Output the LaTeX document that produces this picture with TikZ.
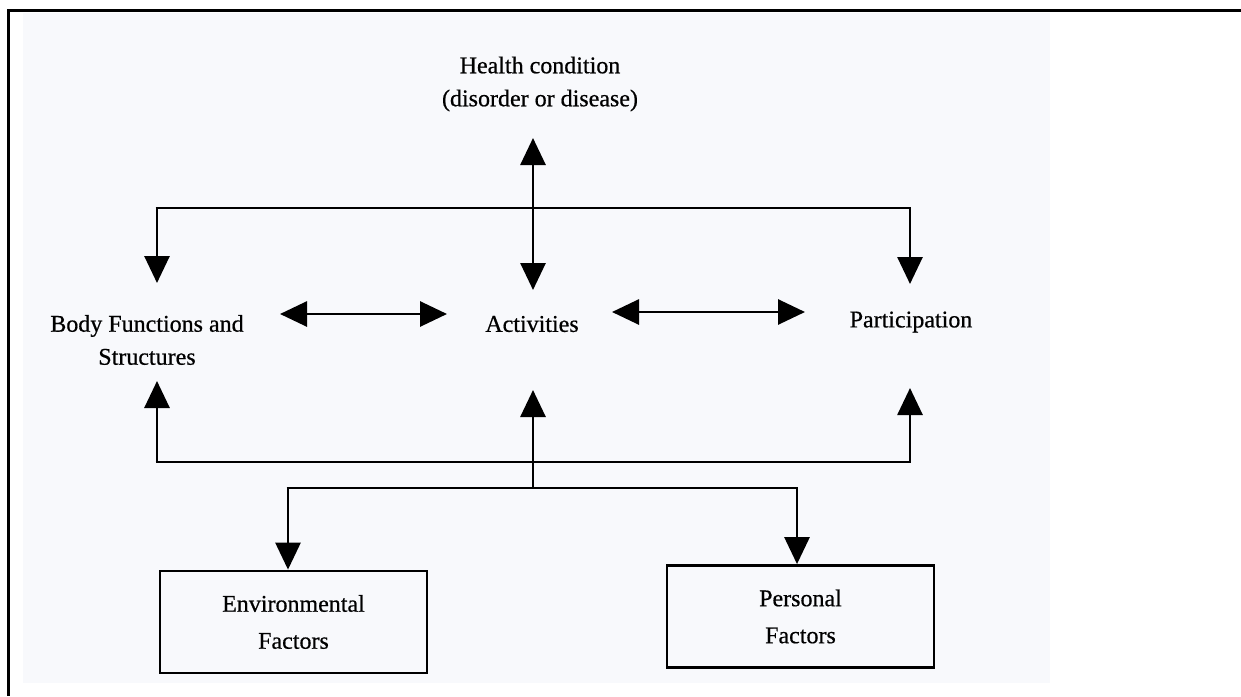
\documentclass[tikz,border=0pt]{standalone}
\usepackage{fontspec}
\setmainfont{Liberation Serif}[FakeBold=0.6]
\usetikzlibrary{arrows.meta}
\definecolor{paper}{RGB}{248,249,252}
\tikzset{
  lbl/.style={align=center, font=\fontsize{24}{33}\selectfont, inner sep=0pt},
  fbox/.style={draw, line width=2.8pt, minimum width=267pt, minimum height=102pt, align=center, font=\fontsize{24}{37}\selectfont, inner sep=0pt},
  conn/.style={line width=2.8pt},
  tip/.style={-{Triangle[width=25pt,length=27pt]}, line width=2.8pt},
  dtip/.style={{Triangle[width=25pt,length=27pt]}-{Triangle[width=25pt,length=27pt]}, line width=2.8pt}
}
\begin{document}
\begin{tikzpicture}[x=1pt,y=-1pt]
\useasboundingbox (0,0) rectangle (1241,696);
\fill[white] (0,0) rectangle (1241,696);
\fill[paper] (23,13) rectangle (1050,683);
% outer frame (top and left)
\draw[line width=3pt] (1241,10) -- (8,10) -- (8,696);

% nodes
\node[lbl] (hc) at (540,84) {Health condition\\(disorder or disease)};
\node[lbl] (bfs) at (147,340) {Body Functions and\\Structures};
\node[lbl] (act) at (532,324) {Activities};
\node[lbl] (par) at (911,322) {Participation};
\node[fbox] (env) at (293.5,622) {Environmental\\Factors};
\node[fbox] (pers) at (800.5,616.5) {Personal\\Factors};

% named points
\coordinate (hcT) at (533,138);
\coordinate (actT) at (533,290);
\coordinate (topL) at (157,208);
\coordinate (topR) at (910,208);
\coordinate (bfsT) at (157,283);
\coordinate (parT) at (910,284);
\coordinate (bfsB) at (157,381);
\coordinate (actB) at (533,390);
\coordinate (parB) at (910,388);
\coordinate (lowL) at (157,462);
\coordinate (lowR) at (910,462);
\coordinate (fac) at (533,488);
\coordinate (facL) at (288,488);
\coordinate (facR) at (797,488);

% health condition <-> activities
\draw[dtip] (hcT) -- (actT);
% top distributor
\draw[conn] ([xshift=-1.4pt]topL) -- ([xshift=1.4pt]topR);
\draw[tip] (topL) -- (bfsT);
\draw[tip] (topR) -- (parT);
% horizontal double arrows
\draw[dtip] (280,314) -- (447,314);
\draw[dtip] (612,312) -- (805,312);
% lower collector
\draw[tip] (lowL) -- (bfsB);
\draw[tip] (lowR) -- (parB);
\draw[conn] ([xshift=-1.4pt]lowL) -- ([xshift=1.4pt]lowR);
\draw[tip] (fac) -- (actB);
% factors
\draw[conn] ([xshift=-1.4pt]facL) -- ([xshift=1.4pt]facR);
\draw[tip] (facL) -- (env.north -| facL);
\draw[tip] (facR) -- (pers.north -| facR);
\end{tikzpicture}
\end{document}
